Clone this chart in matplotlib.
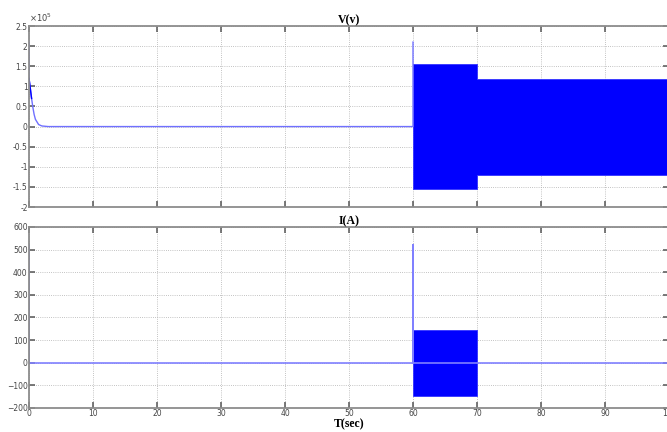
"""Voltage and current waveforms, MATLAB-style two-panel plot."""

import numpy as np
import matplotlib
matplotlib.use("Agg")
import matplotlib.pyplot as plt

# Voltage trace (V): start-up decay, then 60 s spike
v_time = [0.0, 0.0, 0.2, 0.4, 0.6, 0.8, 1.0, 1.5, 2.0, 3.0, 60.0, 60.0]
v_value = [2.1e5, 1.2e5, 0.95e5, 0.7e5, 0.48e5, 0.3e5, 0.18e5, 0.05e5, 0.015e5, 0.0, 0.0, 2.1e5]

# Voltage oscillation envelope (filled band)
v_band_time = [60.0, 70.0, 70.0, 100.0]
v_band_upper = [1.55e5, 1.55e5, 1.18e5, 1.18e5]
v_band_lower = [-1.55e5, -1.55e5, -1.2e5, -1.2e5]

# Current trace (A)
i_time = [0.0, 0.0, 0.05, 60.0, 60.0, 60.0, 70.0, 100.0]
i_value = [520.0, 0.0, 0.0, 0.0, 520.0, 0.0, 0.0, 0.0]

# Current oscillation envelope
i_band_time = [60.0, 70.0]
i_band_upper = [145.0, 145.0]
i_band_lower = [-145.0, -145.0]

x_ticks = list(range(0, 101, 10))
v_ticks = [-2e5, -1.5e5, -1e5, -0.5e5, 0, 0.5e5, 1e5, 1.5e5, 2e5, 2.5e5]
v_tick_labels = ['-2', '-1.5', '-1', '-0.5', '0', '0.5', '1', '1.5', '2', '2.5']
i_ticks = [-200, -100, 0, 100, 200, 300, 400, 500, 600]

LINE = '#0000ff'
SPINE = '#8c8c8c'


def style_axes(ax):
    for s in ax.spines.values():
        s.set_color(SPINE)
        s.set_linewidth(1.3)
    ax.tick_params(direction='in', length=4, width=1.1, color='#555555',
                   labelsize=5.5, labelcolor='#444444', pad=1,
                   top=True, right=True)
    ax.set_axisbelow(True)
    ax.grid(True, linestyle=(0, (1, 1.6)), color='#b0b0b0', linewidth=0.6)
    ax.set_xlim(0, 100)
    ax.set_xticks(x_ticks)


fig = plt.figure(figsize=(6.67, 4.32), dpi=100)
ax1 = fig.add_axes([0.0435, 0.5208, 0.9595, 0.419])
ax2 = fig.add_axes([0.0435, 0.0556, 0.9595, 0.419])

# Top panel: voltage
ax1.fill_between(v_band_time, v_band_lower, v_band_upper, color=LINE,
                 linewidth=0.6, edgecolor='#3333ff')
ax1.plot(v_time, v_value, color='#7070ff', linewidth=1.0)
ax1.plot(v_time[1:4], v_value[1:4], color=LINE, linewidth=1.0)
style_axes(ax1)
ax1.set_ylim(-2e5, 2.5e5)
ax1.set_yticks(v_ticks)
ax1.set_yticklabels(v_tick_labels)
ax1.set_xticklabels([])
ax1.set_title('V(v)', fontsize=8.5, fontweight='bold', family='Liberation Serif', pad=2)
ax1.text(0.0, 1.01, r'$\times10^{5}$', transform=ax1.transAxes,
         fontsize=6, color='#444444', ha='left', va='bottom')

# Bottom panel: current
ax2.fill_between(i_band_time, i_band_lower, i_band_upper, color=LINE,
                 linewidth=0.6, edgecolor='#3333ff')
ax2.plot(i_time, i_value, color='#8080ff', linewidth=1.2)
style_axes(ax2)
ax2.set_ylim(-200, 600)
ax2.set_yticks(i_ticks)
ax2.set_title('I(A)', fontsize=8.5, fontweight='bold', family='Liberation Serif', pad=2)
ax2.set_xlabel('T(sec)', fontsize=8.5, fontweight='bold', family='Liberation Serif', labelpad=0)

fig.savefig('out.png', dpi=100)
